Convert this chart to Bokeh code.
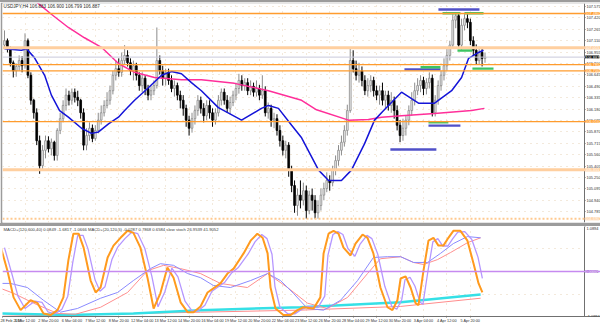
from bokeh.plotting import figure
from bokeh.models import (Range1d, FixedTicker, Span, Label, Div, PrintfTickFormatter, Grid,
                          LinearAxis, BoxAnnotation)
from bokeh.layouts import column
from bokeh.embed import file_html
from bokeh.resources import INLINE

# ---------------- data ----------------
closes = [
107.11,107.00,106.81,106.70,106.76,106.84,106.77,107.11,106.64,106.30,
106.13,105.75,105.41,105.62,105.75,105.64,105.73,105.55,105.89,106.05,
106.23,106.37,106.30,106.41,106.34,106.30,106.13,105.69,105.82,105.92,
105.78,105.89,106.03,106.13,106.23,106.30,106.43,106.64,106.73,106.68,
106.84,106.91,106.81,106.70,106.77,106.64,106.50,106.60,106.46,106.37,
106.43,106.50,106.84,106.70,106.60,106.68,106.57,106.46,106.50,106.37,
106.30,106.19,106.03,105.92,106.05,106.16,106.30,106.19,106.09,106.23,
106.13,106.03,106.13,106.30,106.41,106.30,106.19,106.27,106.37,106.46,
106.57,106.50,106.54,106.43,106.49,106.41,106.46,106.37,106.43,106.13,
106.19,106.03,106.05,105.89,105.75,105.62,105.69,105.35,105.14,104.87,
105.01,104.94,105.07,104.80,105.01,104.94,104.77,104.87,105.01,105.10,
105.21,105.18,105.35,105.48,105.62,105.73,105.89,106.16,106.84,106.73,
106.64,106.70,106.57,106.43,106.50,106.57,106.43,106.37,106.43,106.30,
106.37,106.23,106.30,106.16,105.96,105.82,105.92,106.03,106.16,106.30,
106.43,106.50,106.57,106.46,106.54,106.60,106.13,106.30,106.50,106.64,
106.77,106.91,107.05,107.39,107.45,107.05,107.32,107.41,107.36,107.11,
106.98,106.84,106.95,106.87,106.887]
first_open = 107.05
highs = [
107.25,107.14,107.03,106.84,106.80,106.91,106.90,107.21,107.14,106.68,
106.32,106.19,105.82,105.69,105.82,105.81,105.78,105.75,105.92,106.13,
106.30,106.46,106.43,106.46,106.46,106.43,106.32,106.19,105.92,106.00,
105.97,105.96,106.13,106.23,106.30,106.41,106.50,106.70,106.84,106.87,
106.95,107.05,106.98,106.87,106.84,106.81,106.68,106.68,106.64,106.51,
106.50,106.57,107.29,106.91,106.77,106.73,106.73,106.64,106.57,106.54,
106.43,106.37,106.24,106.09,106.13,106.23,106.37,106.35,106.26,106.30,
106.30,106.19,106.19,106.37,106.46,106.46,106.37,106.35,106.43,106.54,
106.66,106.64,106.60,106.60,106.57,106.54,106.57,106.51,106.64,106.49,
106.27,106.24,106.13,106.11,105.96,105.82,105.75,105.73,105.41,105.21,
105.10,105.21,105.18,105.14,105.07,105.10,105.01,104.94,105.10,105.18,
105.32,105.28,105.41,105.55,105.69,105.82,105.96,106.24,107.02,106.98,
106.84,106.81,106.76,106.64,106.60,106.64,106.62,106.50,106.50,106.54,
106.43,106.43,106.41,106.35,106.23,106.03,106.05,106.09,106.23,106.41,
106.54,106.60,106.64,106.62,106.60,106.68,106.65,106.37,106.57,106.70,
106.87,107.00,107.11,107.47,107.49,107.48,107.41,107.47,107.47,107.41,
107.17,107.06,107.03,107.02,106.95]
lows = [
107.00,106.95,106.76,106.61,106.62,106.70,106.68,106.73,106.60,106.24,
106.05,105.69,105.30,105.35,105.51,105.59,105.55,105.48,105.48,105.84,
106.00,106.16,106.23,106.24,106.27,106.22,106.05,105.62,105.62,105.75,
105.73,105.75,105.85,105.97,106.08,106.19,106.24,106.38,106.57,106.62,
106.62,106.79,106.76,106.64,106.57,106.57,106.43,106.41,106.37,106.30,
106.30,106.37,106.46,106.65,106.50,106.50,106.51,106.41,106.35,106.30,
106.19,106.09,105.94,105.82,105.86,105.97,106.09,106.12,106.00,106.03,
106.05,105.94,105.97,106.08,106.23,106.24,106.13,106.11,106.22,106.30,
106.39,106.43,106.43,106.37,106.37,106.35,106.35,106.30,106.32,106.08,
106.05,105.94,105.92,105.82,105.67,105.55,105.51,105.26,105.05,104.77,
104.73,104.83,104.87,104.69,104.75,104.80,104.69,104.69,104.80,104.94,
105.05,105.07,105.13,105.28,105.41,105.55,105.67,105.82,106.13,106.68,
106.57,106.54,106.49,106.37,106.35,106.41,106.35,106.30,106.24,106.23,
106.19,106.16,106.13,106.05,105.89,105.73,105.75,105.82,105.96,106.09,
106.23,106.37,106.41,106.37,106.38,106.46,106.08,106.08,106.24,106.43,
106.57,106.70,106.84,107.00,107.28,107.00,106.98,107.25,107.28,107.05,
106.90,106.79,106.79,106.76,106.81]

ma_fast_x = [0,5.8,7.5,10.2,13.7,16,18.8,21.8,26.3,29.7,32.1,35.5,38.9,41,44.4,49.1,53.6,57,60.4,63.8,
             67.2,73,80.9,87.7,90.1,93.5,98,101.4,107.2,110.6,115,118.4,122.9,126.3,129.4,135.5,141.3,
             146.8,152.6,156,158.4,161.8,163.5]
ma_fast_y = [107.00,106.98,107.00,106.88,106.64,106.37,106.16,106.07,105.92,105.85,105.87,105.98,106.07,
             106.16,106.30,106.47,106.64,106.69,106.66,106.54,106.43,106.20,106.03,106.19,106.23,106.19,
             105.96,105.79,105.35,105.21,105.21,105.35,105.71,106.03,106.16,106.41,106.26,106.26,106.43,
             106.61,106.87,106.95,106.98]
ma_slow_x = [8.5,10.2,16,21.8,27.3,33.1,38.9,44.4,51.2,60.4,67.2,78.5,90.1,101.4,106.5,117.4,124.2,128.7,
             135.5,146.8,159.4,163.8]
ma_slow_y = [107.70,107.66,107.47,107.29,107.15,107.02,106.80,106.68,106.61,106.58,106.58,106.53,106.43,
             106.30,106.17,106.03,106.04,106.07,106.09,106.12,106.16,106.19]

price_ticks = [107.575,107.420,107.265,107.110,106.955,106.800,106.645,106.490,106.335,106.180,
               106.025,105.870,105.715,105.560,105.405,105.250,105.095,104.940,104.785,104.630]
levels_strong = [107.480, 106.785, 106.700, 106.010]
levels_soft = [107.015, 105.355]
level_dotted = 104.690
last_price = 106.887

zone_x0 = [148.1,149.5,157.0,154.6,159.7,136.5,142.0,144.7,144.7,131.7]
zone_x1 = [162.1,155.6,163.5,159.7,166.9,148.8,148.8,151.5,155.6,147.4]
zone_y = [107.535,107.484,107.484,106.977,106.730,106.720,106.750,106.000,105.955,105.630]
zone_kind = ["b","g","g","g","g","b","g","g","b","b"]

# oscillator panel
osc_x = [-1.4,1.0,3.1,5.5,8.9,11.3,13.3,15.7,18.1,20.1,21.8,23.5,25.3,27.0,29.4,31.1,32.8,35.2,37.2,39.6,
         42.0,44.0,46.4,48.8,50.9,53.2,55.6,57.7,60.1,62.5,64.5,66.9,69.3,73.7,76.1,78.2,81.6,84.0,86.3,88.1,
         89.8,90.8,92.5,95.2,97.6,100.0,102.0,105.5,107.8,108.9,110.6,112.3,114.0,115.7,118.1,119.8,122.2,
         123.9,125.9,128.3,130.7,132.4,134.1,135.2,136.9,138.6,140.3,141.3,143.0,144.7,146.4,148.1,149.8,
         151.5,153.2,155.6,158.0,160.1,161.8,163.1]
osc_y = [0.63,0.02,-0.63,-0.94,-0.70,-0.77,-1.02,-1.06,-0.94,-0.63,0.27,0.92,0.92,0.58,-0.22,-0.51,-0.39,
         0.34,0.63,0.82,0.99,0.94,0.58,-0.15,-0.90,-0.53,0.10,-0.15,-0.75,-0.99,-0.99,-0.85,-0.51,-0.29,-0.05,
         0.07,0.44,0.75,0.92,0.82,0.44,-0.39,-0.90,-1.06,-1.06,-0.94,-0.87,-0.90,-0.63,0.44,0.92,0.99,0.92,
         0.58,0.39,0.68,0.90,0.82,0.44,-0.39,-0.87,-0.94,-0.70,-0.17,-0.12,-0.39,-0.77,-0.82,0.02,0.75,0.82,
         0.63,0.63,0.82,0.99,0.99,0.75,0.19,-0.29,-0.51]
sig_x = [0.0,2.5,4.6,7.0,10.4,12.8,14.8,17.2,19.6,21.6,23.3,25.0,26.8,28.5,30.9,32.6,34.3,36.7,38.7,41.1,
         43.5,45.5,47.9,50.3,52.4,54.7,57.1,59.2,61.6,64.0,66.0,68.4,70.8,75.2,77.6,79.7,83.1,85.5,87.8,89.6,
         91.3,92.3,94.0,96.7,99.1,101.5,103.5,107.0,109.3,110.4,112.1,113.8,115.5,117.2,119.6,121.3,123.7,
         125.4,127.4,129.8,132.2,133.9,135.6,136.7,138.4,140.1,141.8,142.8,144.5,146.2,147.9,149.6,151.3,
         153.0,154.7,157.1,159.5,161.6,163.1]
sig_y = [0.58,-0.05,-0.60,-0.90,-0.72,-0.75,-0.98,-1.03,-0.92,-0.60,0.22,0.88,0.88,0.55,-0.20,-0.48,-0.37,
         0.30,0.60,0.80,0.96,0.92,0.56,-0.12,-0.86,-0.50,0.08,-0.13,-0.72,-0.96,-0.96,-0.82,-0.48,-0.26,-0.03,
         0.09,0.42,0.72,0.90,0.80,0.42,-0.36,-0.87,-1.03,-1.03,-0.92,-0.85,-0.88,-0.60,0.40,0.90,0.97,0.90,
         0.56,0.37,0.66,0.88,0.80,0.42,-0.36,-0.85,-0.92,-0.68,-0.20,-0.14,-0.36,-0.74,-0.80,0.00,0.72,0.80,
         0.62,0.62,0.80,0.96,0.97,0.78,0.35,-0.17]
slow1_x = [-1.4,2.0,7.8,13.3,19.1,24.9,32.8,38.6,44.0,49.8,53.2,57.7,62.5,66.9,71.3,77.1,84.0,89.8,94.2,
           98.6,103.4,108.9,114.7,120.5,125.9,130.7,135.2,139.6,144.4,148.8,153.2,158.0,162.5]
slow1_y = [-0.29,-0.29,-0.39,-0.70,-0.99,-0.90,-0.65,-0.51,-0.22,0.07,0.19,0.15,-0.05,-0.15,-0.34,-0.39,
           -0.22,-0.05,-0.22,-0.53,-0.90,-0.94,-0.70,-0.22,0.34,0.36,0.36,0.22,0.22,0.44,0.68,0.85,0.82]
slow2_x = [-1.4,3.1,9.9,18.1,24.2,32.8,42.0,48.8,54.3,60.1,66.9,73.7,82.9,89.8,96.6,103.4,110.2,117.1,
           123.9,128.3,135.2,139.6,143.0,147.8,152.2,158.0,162.5]
slow2_y = [-0.41,-0.53,-0.77,-1.02,-1.04,-0.87,-0.51,0.02,0.15,0.07,-0.05,-0.29,-0.39,-0.05,-0.39,-0.77,
           -0.90,-0.63,-0.05,0.31,0.36,0.22,0.17,0.29,0.46,0.70,0.82]
base1_x = [-1.4,21.5,44.0,66.9,101.0,135.2,162.5]
base1_y = [-1.02,-1.06,-1.02,-0.94,-0.87,-0.75,-0.56]
base2_x = [-1.4,66.9,101.0,135.2,162.5]
base2_y = [-1.09,-0.99,-0.94,-0.85,-0.65]
osc_ticks = [1.0894, 0.0, -1.0894]
osc_level = 0.0

time_ticks = [-0.6,7,15,23,31,39,47,55,63,71,79,87,95,103,111,119,127,135,143,151,159]
time_labels = ["28 Feb 2018","1 Mar 12:00","2 Mar 20:00","6 Mar 04:00","7 Mar 12:00","8 Mar 20:00",
               "12 Mar 04:00","13 Mar 12:00","14 Mar 20:00","16 Mar 04:00","19 Mar 12:00","20 Mar 20:00",
               "22 Mar 04:00","23 Mar 12:00","26 Mar 20:00","28 Mar 04:00","29 Mar 12:00","30 Mar 20:00",
               "3 Apr 04:00","4 Apr 12:00","5 Apr 20:00"]

title_text = "USDJPY,H4  106.883 106.900 106.799 106.887"
osc_text = ("MACD+(120,600,40) 0.0849 -1.6817 -1.0666   MACD+(20,120,5) -0.0287 0.7868 0.6584   "
            "slow stoch 26.9539 41.9052")

# ---------------- styling ----------------
FONT = "Liberation Sans"
FS = "3.9px"
PX_PER_BAR = 2.93
X0 = -0.68
AXIS_X = X0 + 582 / PX_PER_BAR        # where the price scale sits (px 584)
XR = Range1d(X0, X0 + 598 / PX_PER_BAR)
LBL_X = AXIS_X + 0.25

def style_axis(ax, fs=FS):
    ax.major_label_text_font = FONT
    ax.major_label_text_font_size = fs
    ax.major_label_text_color = "#303030"
    ax.axis_line_color = "#707070"
    ax.major_tick_line_color = "#707070"
    ax.major_tick_in = 0
    ax.major_tick_out = 1
    ax.minor_tick_line_color = None
    ax.major_label_standoff = 1

def add_grid(p, dim, ticks):
    p.add_layout(Grid(dimension=dim, ticker=FixedTicker(ticks=ticks),
                      grid_line_color="#e6cfb0", grid_line_dash="1 5", grid_line_alpha=0.9))

def scale_panel(p):
    p.add_layout(BoxAnnotation(left=AXIS_X, fill_color="#ffffff", fill_alpha=1.0,
                               line_color=None, level="underlay"))

# ---------------- main price panel ----------------
p1 = figure(width=600, height=221, x_range=XR, y_range=Range1d(104.638, 107.616),
            output_backend="svg", toolbar_location=None, x_axis_location=None,
            y_axis_location=None, min_border_left=2, min_border_right=0,
            min_border_top=1, min_border_bottom=1)
p1.grid.visible = False
p1.background_fill_color = "#ffffff"
p1.border_fill_color = "#9c9c9c"
p1.outline_line_color = None
add_grid(p1, 0, time_ticks[1:])
add_grid(p1, 1, price_ticks)
scale_panel(p1)
ya = LinearAxis(fixed_location=AXIS_X, ticker=FixedTicker(ticks=price_ticks),
                formatter=PrintfTickFormatter(format="%.3f"))
style_axis(ya)
p1.add_layout(ya, "right")

for lv in levels_strong:
    p1.add_layout(Span(location=lv, dimension="width", line_color="#ff9c2e", line_width=1.4))
for lv in levels_soft:
    p1.add_layout(Span(location=lv, dimension="width", line_color="#ffcf9f", line_width=3))
p1.add_layout(Span(location=level_dotted, dimension="width", line_color="#ffc98f",
                   line_width=2, line_dash="2 2"))
p1.add_layout(Span(location=last_price, dimension="width", line_color="#c9c9dc", line_width=1))

opens = [first_open] + closes[:-1]
idx = list(range(len(closes)))
up = [c >= o for o, c in zip(opens, closes)]
wick_col = ["#8c8c8c" if u else "#000000" for u in up]
body_fill = ["#eeeeee" if u else "#000000" for u in up]
body_line = ["#8c8c8c" if u else "#000000" for u in up]
p1.segment(x0=idx, y0=lows, x1=idx, y1=highs, line_color=wick_col, line_width=1)
p1.vbar(x=idx, width=0.6, top=[max(o, c) for o, c in zip(opens, closes)],
        bottom=[min(o, c) for o, c in zip(opens, closes)],
        fill_color=body_fill, line_color=body_line, line_width=0.8)

p1.line(ma_slow_x, ma_slow_y, line_color="#ff2f9a", line_width=1.5)
p1.line(ma_fast_x, ma_fast_y, line_color="#1414d8", line_width=1.5)

zcol = {"b": "#5050c8", "g": "#3cc462"}
p1.segment(x0=zone_x0, y0=zone_y, x1=zone_x1, y1=zone_y,
           line_color=[zcol[k] for k in zone_kind], line_width=2.4)

p1.add_layout(Label(x=-0.3, y=107.612, text=title_text, text_font=FONT, text_font_size="4.6px",
                    text_color="#303030", text_baseline="top"))
for lv in levels_strong + levels_soft + [level_dotted]:
    col = "#ffcf9f" if (lv in levels_soft or lv == level_dotted) else "#ff9c2e"
    p1.add_layout(Label(x=LBL_X, y=lv, text="%.3f" % lv, text_font=FONT, text_font_size=FS,
                        text_color="#ffffff", text_baseline="middle", text_align="left",
                        background_fill_color=col))
p1.add_layout(Label(x=LBL_X, y=last_price, text="%.3f" % last_price, text_font=FONT,
                    text_font_size=FS, text_color="#ffffff", text_baseline="middle",
                    text_align="left", background_fill_color="#000000"))

# ---------------- oscillator panel ----------------
p2 = figure(width=600, height=102, x_range=XR, y_range=Range1d(-1.095, 1.095),
            output_backend="svg", toolbar_location=None, y_axis_location=None,
            min_border_left=2, min_border_right=0, min_border_top=0, min_border_bottom=12)
p2.grid.visible = False
p2.background_fill_color = "#ffffff"
p2.border_fill_color = "#ffffff"
p2.outline_line_color = None
add_grid(p2, 0, time_ticks[1:])
add_grid(p2, 1, [-0.55, 0.55])
scale_panel(p2)
ya2 = LinearAxis(fixed_location=AXIS_X, ticker=FixedTicker(ticks=osc_ticks),
                 formatter=PrintfTickFormatter(format="%.4f"))
style_axis(ya2)
p2.add_layout(ya2, "right")
xa = p2.xaxis[0]
xa.ticker = FixedTicker(ticks=time_ticks)
xa.major_label_overrides = {t: l for t, l in zip(time_ticks, time_labels)}
xa.major_label_text_align = "left"
style_axis(xa, "3.8px")

p2.add_layout(Span(location=osc_level, dimension="width", line_color="#c68af0", line_width=1.5))
p2.line(base2_x, base2_y, line_color="#ff8c8c", line_width=1)
p2.line(base1_x, base1_y, line_color="#35e0e6", line_width=2.5)
p2.line(slow2_x, slow2_y, line_color="#ff8f8f", line_width=1)
p2.line(slow1_x, slow1_y, line_color="#8a8aff", line_width=1)
p2.line(sig_x, sig_y, line_color="#b596ff", line_width=1.3)
p2.line(osc_x, osc_y, line_color="#ff9a1e", line_width=2)
p2.add_layout(Label(x=-0.3, y=1.08, text=osc_text, text_font=FONT, text_font_size="4.2px",
                    text_color="#404040", text_baseline="top"))
p2.add_layout(Label(x=LBL_X, y=osc_level, text="%.4f" % osc_level, text_font=FONT, text_font_size=FS,
                    text_color="#ffffff", text_baseline="middle", text_align="left",
                    background_fill_color="#b070e0"))

top_bar = Div(width=600, height=2, margin=0, styles={"background-color": "#9c9c9c", "font-size": "0"})
sep_bar = Div(width=600, height=3, margin=0, styles={"background-color": "#9c9c9c", "font-size": "0"})
layout = column(top_bar, p1, sep_bar, p2, spacing=0)

open("out.html", "w").write(file_html(layout, INLINE))
